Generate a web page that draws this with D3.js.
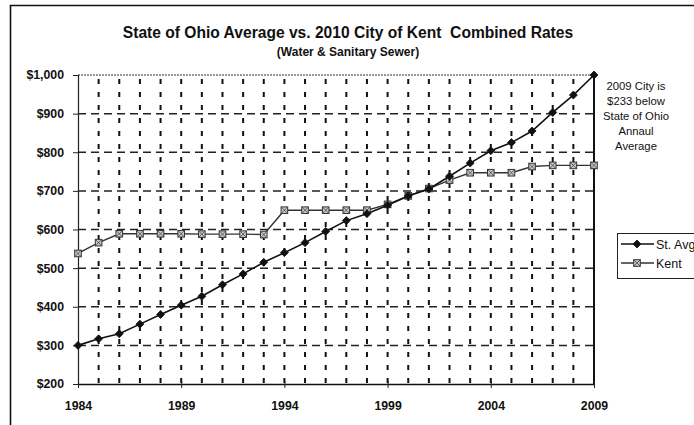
<!DOCTYPE html>
<html>
<head>
<meta charset="utf-8">
<script src="https://cdn.jsdelivr.net/npm/d3@7"></script>
<style>
  html, body { margin: 0; padding: 0; background: #fff; }
  svg { display: block; font-family: Arial, "Liberation Sans", sans-serif; }
</style>
</head>
<body>
<svg id="chart" width="694" height="425"></svg>
<script>
const years = [1984,1985,1986,1987,1988,1989,1990,1991,1992,1993,1994,1995,1996,1997,1998,1999,2000,2001,2002,2003,2004,2005,2006,2007,2008,2009];
const stAvg = [300,317,330,355,380,404,427,457,485,515,540,566,595,623,641,663,687,705,738,772,804,825,855,903,948,1000];
const kent  = [538,566,589,589,589,589,588,588,588,587,650,650,650,650,650,665,687,706,728,747,747,747,763,766,766,766];
const yTicks = [200,300,400,500,600,700,800,900,1000];
const xTicks = [1984,1989,1994,1999,2004,2009];
const seriesNames = ["St. Avg", "Kent"];
const titleText = "State of Ohio Average vs. 2010 City of Kent\u00A0 Combined Rates";
const subtitleText = "(Water & Sanitary Sewer)";
const noteLines = ["2009 City is", "$233 below", "State of Ohio", "Annaul", "Average"];

const svg = d3.select("#chart");
const plot = {left: 78, right: 594, top: 75, bottom: 384};

const x = d3.scaleLinear().domain([1984, 2009]).range([plot.left, plot.right]);
const y = d3.scaleLinear().domain([200, 1000]).range([plot.bottom, plot.top]);

// outer frame
svg.append("path")
  .attr("d", `M10.5,425 L10.5,5.5 L694,5.5`)
  .attr("fill", "none").attr("stroke", "#111").attr("stroke-width", 1.6);

// titles
svg.append("text").attr("x", 348).attr("y", 38).attr("text-anchor", "middle")
  .attr("font-size", 15.6).attr("font-weight", "bold").attr("fill", "#111").text(titleText);
svg.append("text").attr("x", 348).attr("y", 56).attr("text-anchor", "middle")
  .attr("font-size", 12).attr("font-weight", "bold").attr("fill", "#111").text(subtitleText);

// horizontal gridlines
svg.append("g").selectAll("line")
  .data(yTicks.filter(v => v > 200 && v < 1000))
  .join("line")
  .attr("x1", plot.left).attr("x2", plot.right)
  .attr("y1", d => y(d)).attr("y2", d => y(d))
  .attr("stroke", "#222").attr("stroke-width", 1.5)
  .attr("stroke-dasharray", "8,5");

// vertical gridlines
svg.append("g").selectAll("line")
  .data(years.filter(v => v > 1984 && v < 2009))
  .join("line")
  .attr("x1", d => x(d)).attr("x2", d => x(d))
  .attr("y1", plot.top).attr("y2", plot.bottom)
  .attr("stroke", "#111").attr("stroke-width", 2)
  .attr("stroke-dasharray", "5,8")
  .attr("stroke-dashoffset", -4);

// top border (dotted-ish thin), right border solid
svg.append("line").attr("x1", plot.left).attr("x2", plot.right)
  .attr("y1", plot.top).attr("y2", plot.top)
  .attr("stroke", "#333").attr("stroke-width", 1).attr("stroke-dasharray", "2,1");
svg.append("line").attr("x1", plot.right).attr("x2", plot.right)
  .attr("y1", plot.top).attr("y2", plot.bottom)
  .attr("stroke", "#111").attr("stroke-width", 2);

// axes
const yAxis = d3.axisLeft(y).tickValues(yTicks)
  .tickFormat(d => "$" + d3.format(",")(d)).tickSize(5).tickPadding(9);
const gy = svg.append("g").attr("transform", `translate(${plot.left},0)`).call(yAxis);
gy.select(".domain").attr("stroke", "#222").attr("stroke-width", 1.2);
gy.selectAll(".tick line").attr("stroke", "#222");
gy.selectAll("text").attr("font-size", 12.3).attr("font-weight", "bold").attr("fill", "#111")
  .attr("font-family", "Arial, 'Liberation Sans', sans-serif");

const xAxis = d3.axisBottom(x).tickValues(xTicks).tickFormat(d3.format("d"))
  .tickSizeInner(4).tickSizeOuter(0).tickPadding(13);
const gx = svg.append("g").attr("transform", `translate(0,${plot.bottom})`).call(xAxis);
gx.select(".domain").attr("stroke", "#111").attr("stroke-width", 1.5);
gx.selectAll(".tick line").attr("stroke", "#222").attr("y1", -3);
gx.selectAll("text").attr("font-size", 12.3).attr("font-weight", "bold").attr("fill", "#111")
  .attr("font-family", "Arial, 'Liberation Sans', sans-serif");

// series
const stData = years.map((yr, i) => ({yr, v: stAvg[i]}));
const kData = years.map((yr, i) => ({yr, v: kent[i]}));
const line = d3.line().x(d => x(d.yr)).y(d => y(d.v));

function kentMarker(g, cx, cy) {
  const s = 3.3;
  g.append("rect").attr("x", cx - s).attr("y", cy - s).attr("width", 2*s).attr("height", 2*s)
    .attr("fill", "#c8c8c8").attr("stroke", "#333").attr("stroke-width", 1);
  g.append("path").attr("d", `M${cx-s},${cy-s}L${cx+s},${cy+s}M${cx+s},${cy-s}L${cx-s},${cy+s}`)
    .attr("stroke", "#444").attr("stroke-width", 0.8);
}
function diamond(g, cx, cy) {
  const s = 4;
  g.append("path").attr("d", `M${cx},${cy-s}L${cx+s},${cy}L${cx},${cy+s}L${cx-s},${cy}Z`)
    .attr("fill", "#111").attr("stroke", "#111").attr("stroke-width", 0.8);
}

svg.append("path").datum(kData).attr("d", line)
  .attr("fill", "none").attr("stroke", "#333").attr("stroke-width", 1.4);
const gk = svg.append("g");
kData.forEach(d => kentMarker(gk, x(d.yr), y(d.v)));

svg.append("path").datum(stData).attr("d", line)
  .attr("fill", "none").attr("stroke", "#111").attr("stroke-width", 1.6);
const gs = svg.append("g");
stData.forEach(d => diamond(gs, x(d.yr), y(d.v)));

// note
const note = svg.append("text").attr("text-anchor", "middle")
  .attr("font-size", 11.3).attr("fill", "#111");
noteLines.forEach((t, i) => {
  note.append("tspan").attr("x", 636).attr("y", 90 + i * 15).text(t);
});

// legend
const lg = svg.append("g");
lg.append("rect").attr("x", 617.5).attr("y", 233.5).attr("width", 90).attr("height", 45)
  .attr("fill", "#fff").attr("stroke", "#222").attr("stroke-width", 1);
lg.append("line").attr("x1", 621).attr("x2", 654).attr("y1", 244).attr("y2", 244)
  .attr("stroke", "#111").attr("stroke-width", 1.6);
diamond(lg, 637, 244);
lg.append("text").attr("x", 656).attr("y", 248.5).attr("font-size", 12.5).attr("fill", "#111").text(seriesNames[0]);
lg.append("line").attr("x1", 621).attr("x2", 654).attr("y1", 263).attr("y2", 263)
  .attr("stroke", "#333").attr("stroke-width", 1.4);
kentMarker(lg, 637, 263);
lg.append("text").attr("x", 656).attr("y", 267.5).attr("font-size", 12.5).attr("fill", "#111").text(seriesNames[1]);
</script>
</body>
</html>
